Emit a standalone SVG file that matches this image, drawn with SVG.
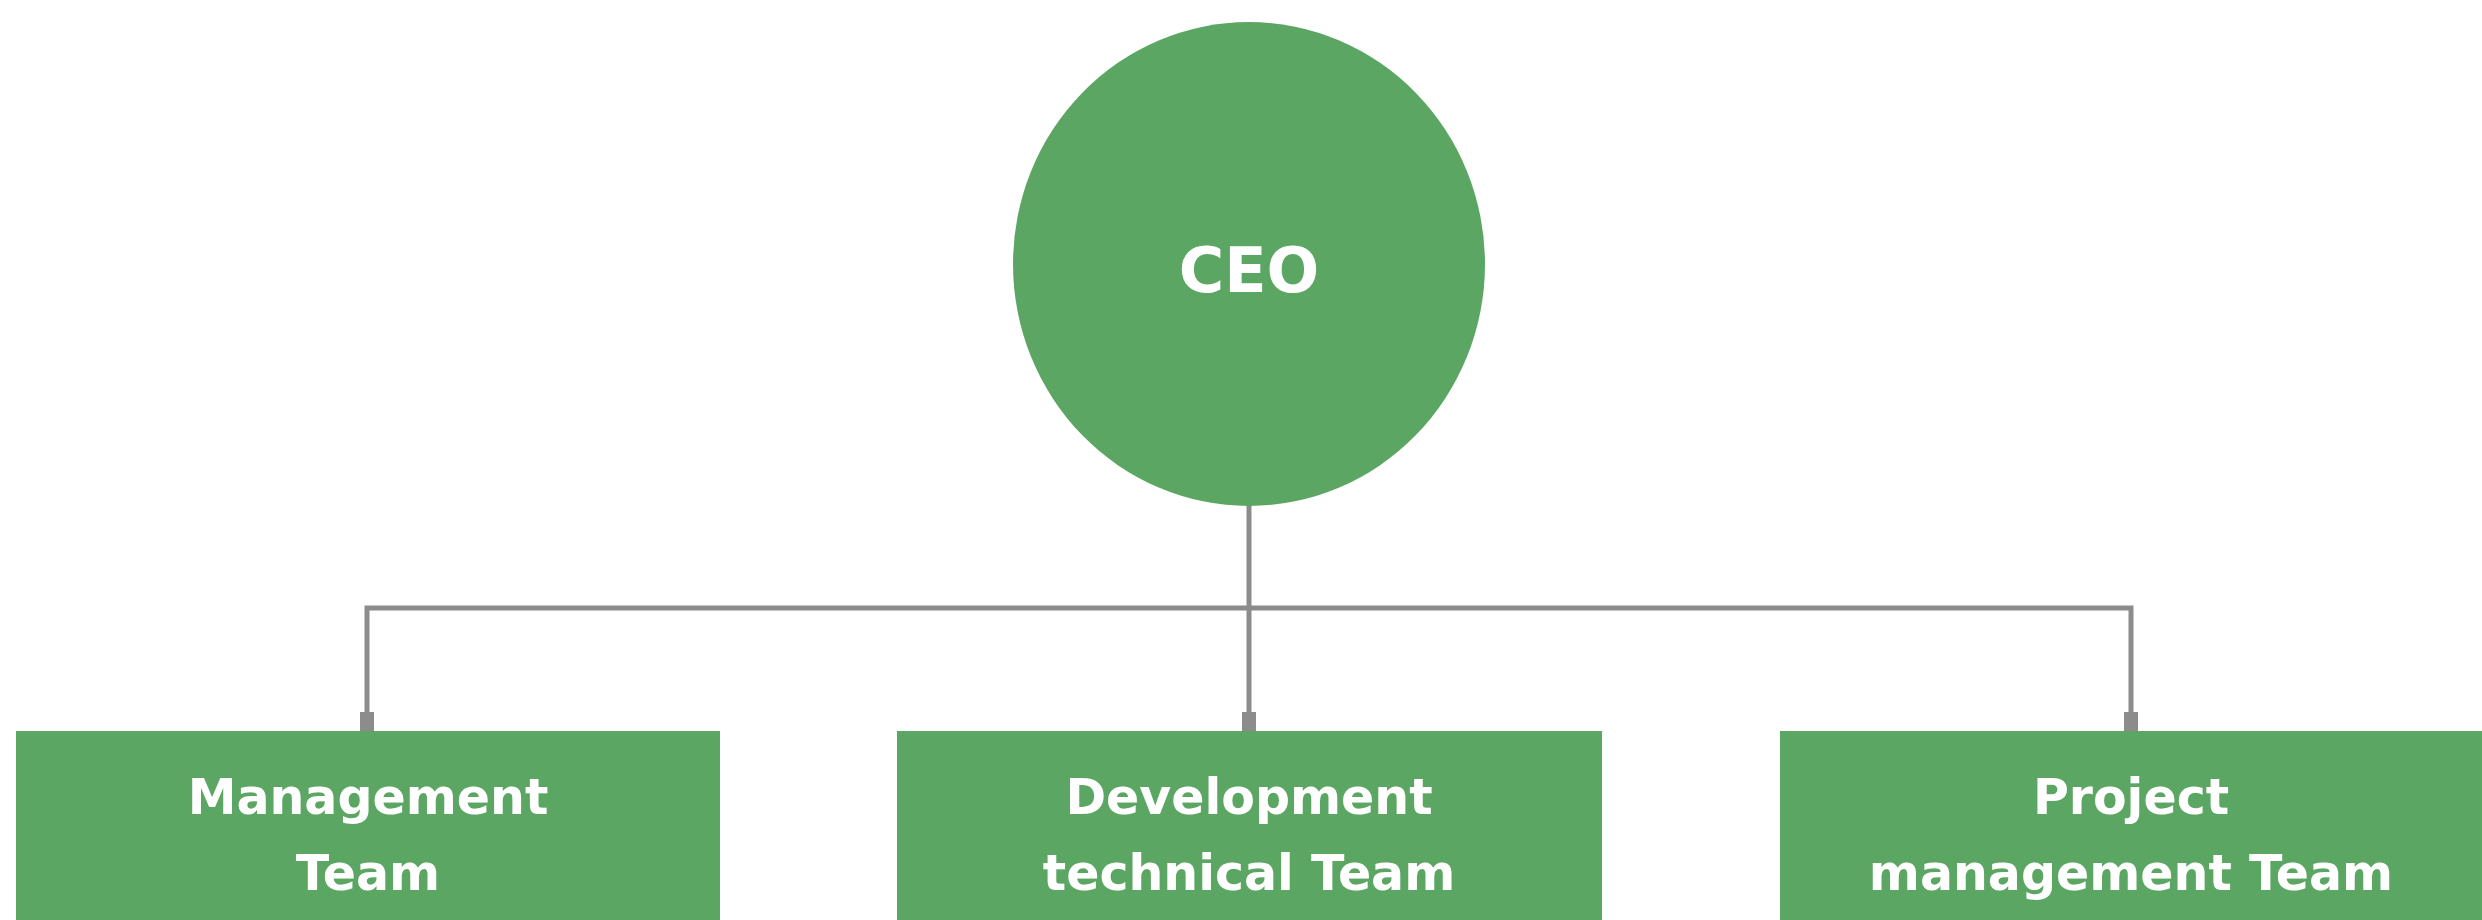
<svg xmlns="http://www.w3.org/2000/svg" width="2482" height="920" viewBox="0 0 2482 920">
<style>
.node{fill:#5ca663}
.lbl{fill:#ffffff;font-family:"DejaVu Sans","Liberation Sans",sans-serif;font-weight:bold;text-anchor:middle}
.conn{stroke:#8c8c8c;stroke-width:5;fill:none}
.term{fill:#8c8c8c}
</style>
<rect width="2482" height="920" fill="#ffffff"/>
<g id="connectors">
<path class="conn" d="M1249 500 V731"/>
<path class="conn" d="M367 731 V608 H2131 V731"/>
<rect class="term" x="360" y="712" width="14" height="19"/>
<rect class="term" x="1242" y="712" width="14" height="19"/>
<rect class="term" x="2124" y="712" width="14" height="19"/>
</g>
<g id="ceo">
<ellipse class="node" cx="1249" cy="264" rx="236" ry="242"/>
<text class="lbl" x="1249" y="292" font-size="62">CEO</text>
</g>
<g id="management-team">
<rect class="node" x="16" y="731" width="704" height="200"/>
<text class="lbl" x="368" y="814" font-size="49">Management</text>
<text class="lbl" x="368" y="890" font-size="49">Team</text>
</g>
<g id="development-team">
<rect class="node" x="897" y="731" width="705" height="200"/>
<text class="lbl" x="1249" y="814" font-size="49">Development</text>
<text class="lbl" x="1249" y="890" font-size="49">technical Team</text>
</g>
<g id="project-team">
<rect class="node" x="1780" y="731" width="710" height="200"/>
<text class="lbl" x="2131" y="814" font-size="49">Project</text>
<text class="lbl" x="2131" y="890" font-size="49">management Team</text>
</g>
</svg>
